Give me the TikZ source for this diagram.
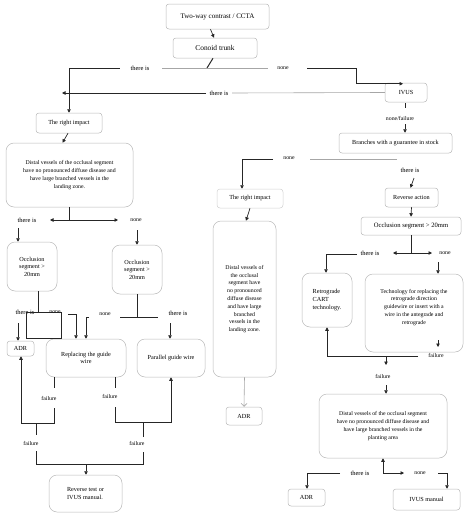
\documentclass[tikz,border=0pt]{standalone}
\usepackage{fontspec}
\setmainfont{Liberation Serif}
\usetikzlibrary{arrows.meta}
\begin{document}
\begin{tikzpicture}[x=1pt,y=-1pt,
  bx/.style={draw=black!28, line width=0.5pt, rounded corners=3pt, align=center, inner sep=1pt},
  big/.style={bx, rounded corners=8pt},
  fa/.style={font=\fontsize{7}{8}\selectfont},
  fb/.style={font=\fontsize{6.2}{7.6}\selectfont},
  fc/.style={font=\fontsize{5.8}{7.8}\selectfont},
  lbl/.style={inner sep=1pt, font=\fontsize{6.5}{7}\selectfont},
  sl/.style={inner sep=1pt, font=\fontsize{5.8}{7}\selectfont},
  ln/.style={draw=black!85, line width=0.7pt},
  gln/.style={draw=black!35, line width=0.6pt},
  arr/.style={ln, -{Triangle[length=3.5pt,width=3.5pt]}}]
\useasboundingbox (0,0) rectangle (474,525);

% ---------- boxes ----------
\node[bx, fa, minimum width=103pt, minimum height=25pt] (cta) at (217.5,16.5) {Two-way contrast / CCTA};
\node[bx, font=\fontsize{7.4}{8}\selectfont, minimum width=84pt, minimum height=20pt] (conoid) at (215,48) {Conoid trunk};
\node[bx, fb, minimum width=42pt, minimum height=19pt] (ivus) at (406,92.5) {IVUS};
\node[bx, fb, minimum width=113pt, minimum height=20pt] (branches) at (395.5,143) {Branches with a guarantee in stock};
\node[bx, fb, minimum width=66pt, minimum height=20pt] (impact1) at (69,123) {The right impact};
\node[big, fc, minimum width=127pt, minimum height=64pt] (distal1) at (69.5,175)
  {Distal vessels of the occlusal segment\\have no pronounced diffuse disease and\\have large branched vessels in the\\landing zone.};
\node[big, fb, minimum width=50pt, minimum height=49pt] (occ1) at (32,266.5) {Occlusion\\segment >\\20mm};
\node[big, fb, minimum width=50pt, minimum height=49pt] (occ2) at (137,269.5) {Occlusion\\segment >\\20mm};
\node[bx, fb, minimum width=27pt, minimum height=15pt] (adr1) at (20.5,348.5) {ADR};
\node[big, fb, minimum width=80pt, minimum height=38pt] (replace) at (86,358) {Replacing the guide\\wire};
\node[big, fb, minimum width=68pt, minimum height=38pt] (parallel) at (171,358) {Parallel guide wire};
\node[big, fb, align=left, minimum width=73pt, minimum height=37pt] (reverse) at (85.5,493.5) {Reverse test or\\IVUS manual.};
\node[bx, draw=black!18, fb, minimum width=66pt, minimum height=19pt] (impact2) at (250,198.5) {The right impact};
\node[big, fc, minimum width=63pt, minimum height=156pt] (distal2) at (244.5,299)
  {Distal vessels of\\the occlusal\\segment have\\no pronounced\\diffuse disease\\and have large\\branched\\vessels in the\\landing zone.};
\node[bx, fb, minimum width=36pt, minimum height=18pt] (adr2) at (244,416) {ADR};
\node[bx, fb, minimum width=53pt, minimum height=19pt] (revaction) at (411.5,197.5) {Reverse action};
\node[bx, font=\fontsize{6.6}{7.6}\selectfont, minimum width=100pt, minimum height=18pt] (occ3) at (411,226) {Occlusion segment > 20mm};
\node[big, fb, align=left, minimum width=50pt, minimum height=54pt] (cart) at (327,300) {Retrograde\\CART\\technology.};
\node[big, fc, minimum width=98pt, minimum height=78pt] (tech) at (414,313)
  {Technology for replacing the\\retrograde direction\\guidewire or insert with a\\wire in the antegrade and\\retrograde\\[5pt]};
\node[big, fc, minimum width=128pt, minimum height=64pt] (distal3) at (383,426)
  {Distal vessels of the occlusal segment\\have no pronounced diffuse disease and\\have large branched vessels in the\\planting area};
\node[bx, fb, minimum width=37pt, minimum height=17pt] (adr3) at (306.5,497.5) {ADR};
\node[bx, fb, minimum width=67pt, minimum height=21pt] (ivusman) at (426.5,499.5) {IVUS manual};

% ---------- labels ----------
\node[lbl] (th1) at (140,68) {there is};
\node[sl] (no1) at (283,68) {none};
\node[lbl] (th2) at (219,93) {there is};
\node[sl] (nf) at (400,118) {none/failure};
\node[sl] (no2) at (289,158) {none};
\node[lbl] (th3) at (410,170) {there is};
\node[lbl] (th4) at (27,220) {there is};
\node[sl] (no4) at (136,220) {none};
\node[lbl] (th5) at (25,312) {there is};
\node[sl] (no5) at (55,312) {none};
\node[sl] (no6) at (105,314) {none};
\node[lbl] (th6) at (178,313) {there is};
\node[sl] (f1) at (49,398) {failure};
\node[sl] (f2) at (110,396) {failure};
\node[sl] (f3) at (31,443) {failure};
\node[sl] (f4) at (137,443) {failure};
\node[lbl] (th7) at (370,253) {there is};
\node[sl] (no7) at (445,253) {none};
\node[sl] (f5) at (436,355) {failure};
\node[sl] (f6) at (383,376) {failure};
\node[lbl] (th8) at (360,473) {there is};
\node[sl] (no8) at (420,473) {none};

% ---------- coordinates ----------
\coordinate (j0) at (207,68);
\coordinate (tl) at (69,68);
\coordinate (p1) at (120,68);
\coordinate (p2) at (162,68);
\coordinate (p3) at (268,68);
\coordinate (p4) at (307,68);
\coordinate (k1) at (356,68);
\coordinate (q1) at (232,93);
\coordinate (q2) at (206,93);
\coordinate (tip1) at (62,93);
\coordinate (a1) at (405,124);
\coordinate (b1) at (397,159);
\coordinate (b0) at (310,159);
\coordinate (b3) at (273,159);
\coordinate (b2) at (242,159);
\coordinate (c1) at (414,178);
\coordinate (d1) at (69.5,220);
\coordinate (d2) at (50,220);
\coordinate (d3) at (118,220);
\coordinate (e1) at (18,228);
\coordinate (e0) at (137,230);
\coordinate (e2) at (38,312);
\coordinate (r1) at (26,312);
\coordinate (r2) at (61,338);
\coordinate (e3) at (68,314);
\coordinate (e4) at (76,314);
\coordinate (e5) at (89,317);
\coordinate (e6) at (86,317);
\coordinate (e7) at (18,323);
\coordinate (t1) at (137,317);
\coordinate (t2) at (120,317);
\coordinate (t3) at (158,317);
\coordinate (e8) at (170,323);
\coordinate (g1) at (54,388);
\coordinate (g2) at (115,388);
\coordinate (g3) at (54,408);
\coordinate (g4) at (21,423);
\coordinate (g5) at (115,407);
\coordinate (g6) at (171,422);
\coordinate (h1) at (36,423);
\coordinate (h2) at (36,435);
\coordinate (h3) at (36,451);
\coordinate (h5) at (143,464);
\coordinate (h4) at (143,452);
\coordinate (h6) at (143,437);
\coordinate (h7) at (143,422);
\coordinate (h8) at (86,464);
\coordinate (m1) at (411,253);
\coordinate (m2) at (393,253);
\coordinate (m3) at (432,253);
\coordinate (m0) at (357,254);
\coordinate (m4) at (326,254);
\coordinate (m5) at (438,262);
\coordinate (m6) at (438,340);
\coordinate (m7) at (438,347);
\coordinate (m8) at (418,356);
\coordinate (m9) at (327,356);
\coordinate (n1) at (386,356);
\coordinate (n2) at (386,365);
\coordinate (n3) at (386,385);
\coordinate (n4) at (383,473);
\coordinate (n5) at (404,473);
\coordinate (n6) at (340,473);
\coordinate (n7) at (307,473);
\coordinate (n8) at (438,473);
\coordinate (n9) at (447,473);

% ---------- connectors ----------
\draw[arr] ([xshift=-7pt]cta.south) -- ([xshift=-1pt]conoid.north);
\draw[ln, line width=1pt] ([xshift=-2pt]conoid.south) -- (j0);
\draw[ln] (tl) -- (p1);
\draw[gln] (p2) -- (p3);
\draw[arr] (p4) -- (k1) |- ([xshift=-3pt,yshift=-1pt]ivus.north);
\draw[arr] (tl) -- (tl |- impact1.north);
\draw[gln] (ivus.west) -- (q1);
\draw[arr] (q2) -- (tip1);
\draw[ln, line width=0.5pt] ([xshift=-1pt,yshift=-1pt]ivus.south) -- ([xshift=-1pt,yshift=-6pt]ivus.south);
\draw[arr] (a1) -- (a1 |- branches.north);
\draw[gln] (b1) -- (b0);
\draw[arr] (b3) -- (b2) -- (b2 |- impact2.north);
\draw[arr] (c1) -- ([xshift=-1pt]revaction.north);
\draw[arr] ([xshift=-1pt]impact1.south) -- ([xshift=-7pt]distal1.north);
\draw[arr] (impact2.south) -- ([xshift=1.5pt]distal2.north);
\draw[gln, -{Straight Barb[length=3pt,width=6pt]}] (distal2.south) -- (adr2.north);

\draw[ln] (distal1.south) -- (d1);
\draw[arr] (d1) -- (d2);
\draw[arr] (d1) -- (d3);
\draw[arr] (e1) -- (e1 |- occ1.north);
\draw[arr] (e0) -- (occ2.north);
\draw[ln] (e2 |- occ1.south) -- (e2);
\draw[ln] (r1) rectangle (r2);
\draw[arr] (e3) -- (e4) -- (e4 |- replace.north);
\draw[arr] (e5) -- (e6) -- (e6 |- replace.north);
\draw[arr] (e7) -- (e7 |- adr1.north);
\draw[ln] (occ2.south) -- (t1);
\draw[ln] (t2) -- (t3);
\draw[arr] (e8) -- (e8 |- parallel.north);
\draw[ln] (g1 |- replace.south) -- (g1);
\draw[ln] (g2 |- replace.south) -- (g2);
\draw[arr] (g3) |- (g4) -- (g4 |- adr1.south);
\draw[arr] (g5) |- (g6) -- (parallel.south);
\draw[ln] (h1) -- (h2);
\draw[ln] (h3) |- (h5) -- (h4);
\draw[ln] (h6) -- (h7);
\draw[arr] (h8) -- (h8 |- reverse.north);

\draw[arr] (revaction.south) -- (occ3.north);
\draw[ln] (occ3.south) -- (m1);
\draw[arr] (m1) -- (m2);
\draw[arr] (m1) -- (m3);
\draw[arr] (m0) -- (m4) -- (m4 |- cart.north);
\draw[arr] (m5) -- (m5 |- tech.north);
\draw[arr] (m6) -- (m7);
\draw[arr] (m8) -- (m9) -- (cart.south);
\draw[arr] (n1) -- (n2);
\draw[arr] (n3) -- (n3 |- distal3.north);
\draw[arr] (n4) -- (distal3.south);
\draw[arr] (n4) -- (n5);
\draw[arr] (n6) -- (n7) -- (n7 |- adr3.north);
\draw[arr] (n8) -- (n9) -- (n9 |- ivusman.north);
\end{tikzpicture}
\end{document}
